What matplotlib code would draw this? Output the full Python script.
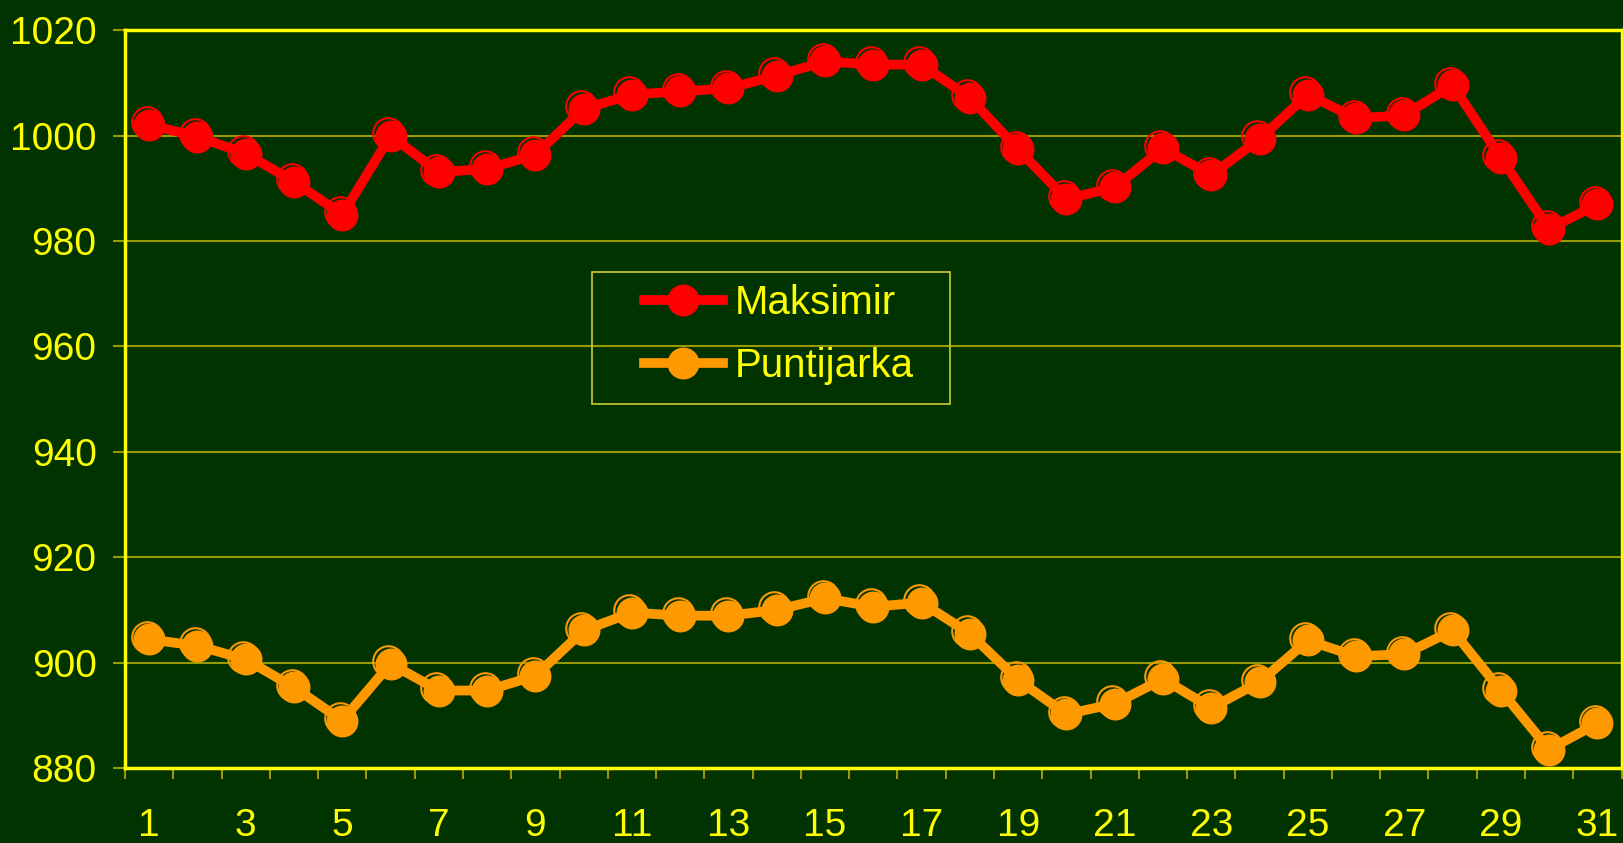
import matplotlib.pyplot as plt
from matplotlib.patches import Rectangle
from matplotlib.ticker import FixedLocator, NullFormatter
from matplotlib.transforms import ScaledTranslation

# data (daily pressure, hPa)
days = list(range(1, 32))
maksimir = [1002.1, 999.8, 996.6, 991.3, 985.0, 1000.0, 993.1, 993.7, 996.4, 1005.1,
            1007.8, 1008.4, 1009.0, 1011.4, 1014.1, 1013.5, 1013.5, 1007.2, 997.4, 988.0,
            990.2, 997.6, 992.5, 999.4, 1007.8, 1003.3, 1003.9, 1009.6, 995.8, 982.3, 987.0]
puntijarka = [904.4, 903.2, 900.6, 895.3, 889.0, 899.8, 894.7, 894.7, 897.5, 906.1,
              909.5, 908.9, 908.9, 910.0, 912.2, 910.6, 911.4, 905.5, 896.7, 890.2,
              892.2, 896.9, 891.4, 896.3, 904.2, 901.2, 901.6, 906.1, 894.7, 883.5, 888.5]
series_names = ["Maksimir", "Puntijarka"]
y_ticks = [880, 900, 920, 940, 960, 980, 1000, 1020]
x_labels = [str(d) for d in days[::2]]

bg = "#003300"
yellow = "#FFFF00"
olive = "#999900"

plt.rcParams['font.family'] = ['Liberation Sans', 'DejaVu Sans']

fig = plt.figure(figsize=(16.24, 8.43), dpi=100, facecolor=bg)
ax = fig.add_axes([0.077, 0.089, 0.9215, 0.875])
ax.set_facecolor(bg)

# small offset for the "shaded ring" look of the markers
ring = ax.transData + ScaledTranslation(-2.5 / 100, 2.5 / 100, fig.dpi_scale_trans)

for vals, col, name in [(maksimir, "#FF0000", series_names[0]),
                        (puntijarka, "#FF9900", series_names[1])]:
    ax.plot(days, vals, color=col, lw=7, marker="o", ms=22,
            mec=col, label=name, zorder=3)
    ax.plot(days, vals, ls="none", marker="o", ms=22, mfc="none",
            mec=col, mew=1.5, transform=ring, zorder=3)

ax.set_xlim(0.5, 31.5)
ax.set_ylim(880, 1020)
ax.set_yticks(y_ticks)
ax.yaxis.grid(True, color=olive, lw=1.5)
ax.set_axisbelow(True)

ax.set_xticks(days[::2])
ax.set_xticklabels(x_labels)
ax.xaxis.set_minor_locator(FixedLocator([d + 0.5 for d in range(0, 32)]))
ax.xaxis.set_minor_formatter(NullFormatter())
ax.tick_params(axis='x', which='major', length=0, pad=29, labelsize=28, labelcolor=yellow)
ax.tick_params(axis='x', which='minor', length=8, width=1.5, color=olive, direction='out')
ax.tick_params(axis='y', length=8.5, width=1.5, color=olive, pad=12,
               labelsize=28, labelcolor=yellow)

for s in ax.spines.values():
    s.set_color(yellow)
    s.set_linewidth(2.5)

# legend frame drawn separately (wider left padding than legend allows)
ax.add_patch(Rectangle((592 / 1624, 1 - 404 / 843), 358 / 1624, 132 / 843,
                       transform=fig.transFigure, facecolor="none",
                       edgecolor="#CCCC33", lw=1.2, zorder=5, clip_on=False))
leg = ax.legend(loc='upper left', bbox_to_anchor=(644 / 1624, 1 - 284 / 843),
                bbox_transform=fig.transFigure, fontsize=29, frameon=False,
                handlelength=1.95, borderpad=0, labelspacing=0.62,
                borderaxespad=0, handletextpad=0.3)
leg.set_zorder(6)
for t in leg.get_texts():
    t.set_color(yellow)

fig.savefig("out.png", dpi=100, facecolor=bg)
